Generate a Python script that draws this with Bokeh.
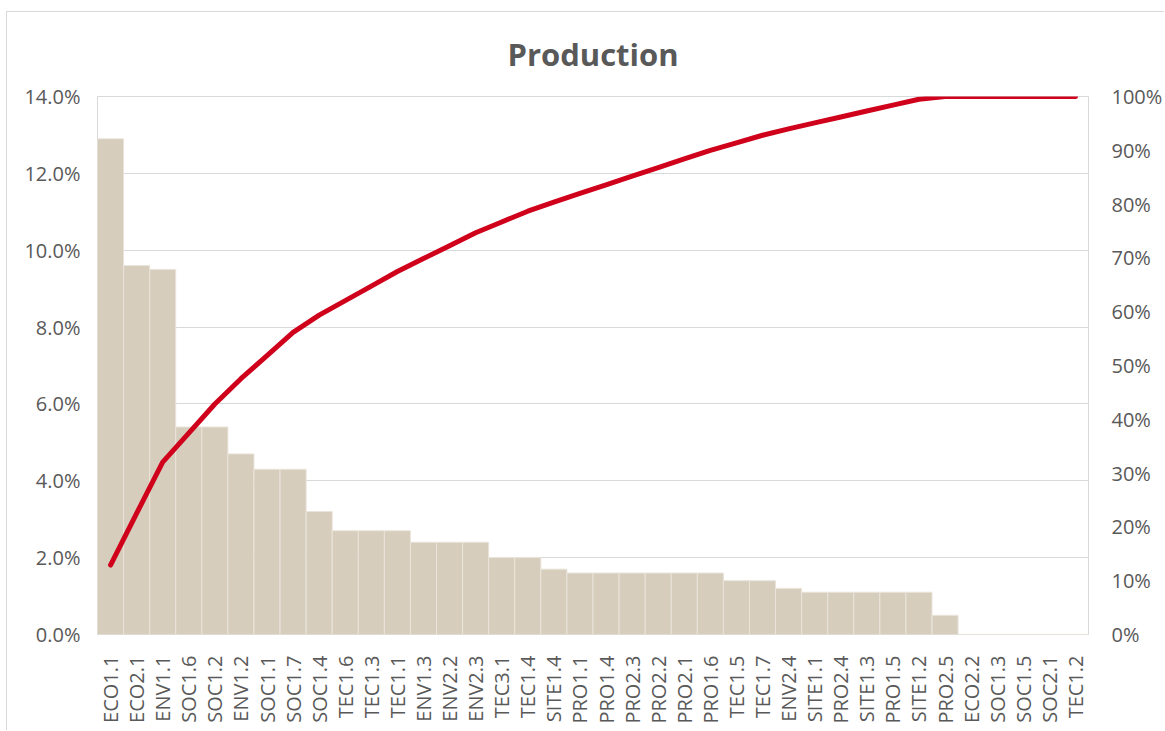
import numpy as np
from bokeh.plotting import figure
from bokeh.models import (Range1d, LinearAxis, FixedTicker, PrintfTickFormatter,
                          ColumnDataSource)
from bokeh.embed import file_html
from bokeh.resources import INLINE

# Criteria sorted by share of the production score
categories = ["ECO1.1", "ECO2.1", "ENV1.1", "SOC1.6", "SOC1.2", "ENV1.2", "SOC1.1",
              "SOC1.7", "SOC1.4", "TEC1.6", "TEC1.3", "TEC1.1", "ENV1.3", "ENV2.2",
              "ENV2.3", "TEC3.1", "TEC1.4", "SITE1.4", "PRO1.1", "PRO1.4", "PRO2.3",
              "PRO2.2", "PRO2.1", "PRO1.6", "TEC1.5", "TEC1.7", "ENV2.4", "SITE1.1",
              "PRO2.4", "SITE1.3", "PRO1.5", "SITE1.2", "PRO2.5", "ECO2.2", "SOC1.3",
              "SOC1.5", "SOC2.1", "TEC1.2"]

# Share of each criterion (%)
share = [12.9, 9.6, 9.5, 5.4, 5.4, 4.7, 4.3, 4.3, 3.2, 2.7, 2.7, 2.7, 2.4, 2.4,
         2.4, 2.0, 2.0, 1.7, 1.6, 1.6, 1.6, 1.6, 1.6, 1.6, 1.4, 1.4, 1.2, 1.1,
         1.1, 1.1, 1.1, 1.1, 0.5, 0.0, 0.0, 0.0, 0.0, 0.0]

left_ticks = [0, 2, 4, 6, 8, 10, 12, 14]
right_ticks = [0, 10, 20, 30, 40, 50, 60, 70, 80, 90, 100]

# Cumulative share, as a percentage of the total
cumulative = list(np.cumsum(share) / np.sum(share) * 100)

src = ColumnDataSource(dict(cat=categories, share=share, cum=cumulative))

FONT = "Open Sans"
GREY = "#595959"
LABEL_SIZE = "20px"

p = figure(width=1158, height=719, x_range=categories, y_range=Range1d(0, 14),
           output_backend="svg", toolbar_location=None,
           min_border_left=90, min_border_right=74, min_border_top=84,
           min_border_bottom=97, background_fill_color="white",
           border_fill_color="white")

# Thin frame around the whole chart area
p.styles = {"margin-left": "6px", "margin-top": "11px",
            "border-left": "1px solid #d9d9d9", "border-top": "1px solid #d9d9d9"}

p.extra_y_ranges = {"cum": Range1d(0, 100)}

p.title.text = "Production"
p.title.align = "center"
p.title.vertical_align = "top"
p.title.text_font = FONT
p.title.text_font_size = "31px"
p.title.text_font_style = "bold"
p.title.text_color = GREY
p.title.standoff = 40

p.outline_line_color = "#d9d9d9"
p.outline_line_width = 1

p.vbar(x="cat", top="share", width=1.0, source=src,
       fill_color="#D6CDBD", line_color="#EAE4DA", line_width=1)

p.line(x="cat", y="cum", source=src, y_range_name="cum",
       line_color="#D0021B", line_width=5, line_cap="round", line_join="round")

# Axes
p.xgrid.grid_line_color = None
p.ygrid.grid_line_color = "#d9d9d9"
p.ygrid.grid_line_width = 1
p.ygrid.level = "underlay"

ya = p.yaxis[0]
ya.ticker = FixedTicker(ticks=left_ticks)
ya.formatter = PrintfTickFormatter(format="%.1f%%")
ya.axis_line_color = None
ya.major_tick_line_color = None
ya.minor_tick_line_color = None
ya.major_label_standoff = 11
ya.major_label_text_font = FONT
ya.major_label_text_font_size = LABEL_SIZE
ya.major_label_text_color = GREY

xa = p.xaxis[0]
xa.axis_line_color = None
xa.major_tick_line_color = None
xa.minor_tick_line_color = None
xa.major_label_orientation = np.pi / 2
xa.major_label_standoff = 15
xa.major_label_text_font = FONT
xa.major_label_text_font_size = LABEL_SIZE
xa.major_label_text_color = GREY

ra = LinearAxis(y_range_name="cum", ticker=FixedTicker(ticks=right_ticks),
                formatter=PrintfTickFormatter(format="%d%%"))
ra.axis_line_color = None
ra.major_tick_line_color = None
ra.minor_tick_line_color = None
ra.major_label_standoff = 17
ra.major_label_text_font = FONT
ra.major_label_text_font_size = LABEL_SIZE
ra.major_label_text_color = GREY
p.add_layout(ra, "right")

open("out.html", "w").write(file_html(p, INLINE))
